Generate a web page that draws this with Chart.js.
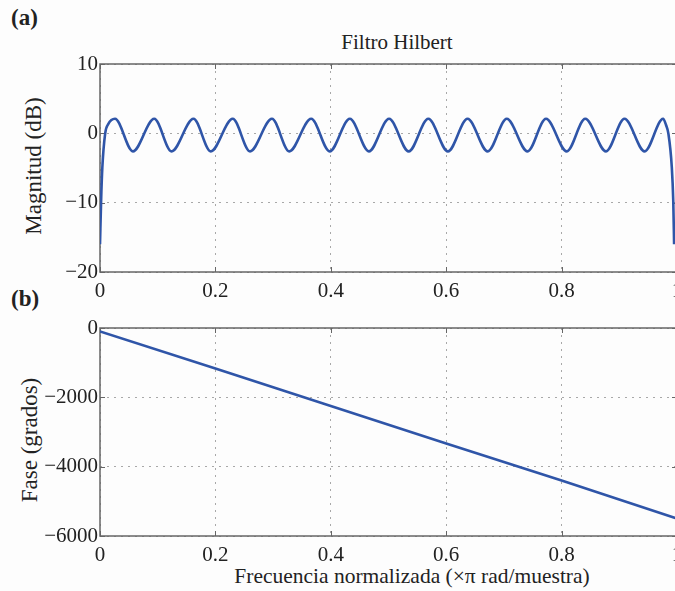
<!DOCTYPE html>
<html>
<head>
<meta charset="utf-8">
<script src="https://cdn.jsdelivr.net/npm/chart.js@4.4.1/dist/chart.umd.min.js"></script>
<style>
  html, body { margin: 0; padding: 0; background: #fdfdfd; overflow: hidden; width: 675px; height: 591px; }
  #page { position: relative; width: 675px; height: 591px; overflow: hidden; font-family: 'Liberation Serif', 'Times New Roman', serif; color: #222; }
  canvas { position: absolute; left: 0; }
  .lbl { position: absolute; white-space: nowrap; line-height: 1; }
  .tag { font-weight: bold; font-size: 23px; left: 11px; }
  .rot { transform: translate(-50%, -50%) rotate(-90deg); font-size: 23px; }
</style>
</head>
<body>
<div id="page">
  <div class="lbl tag" style="top:6px">(a)</div>
  <div class="lbl tag" style="top:287px">(b)</div>
  <div class="lbl" style="left:397px;top:32px;font-size:21px;transform:translateX(-50%)">Filtro Hilbert</div>
  <div class="lbl rot" style="left:33px;top:166px">Magnitud (dB)</div>
  <div class="lbl rot" style="left:29px;top:440px">Fase (grados)</div>
  <div class="lbl" style="left:412px;top:566px;font-size:21.5px;transform:translateX(-50%)">Frecuencia normalizada (×π rad/muestra)</div>
  <canvas id="magChart" width="700" height="300" style="top:0"></canvas>
  <canvas id="phaseChart" width="700" height="291" style="top:300px"></canvas>
</div>
<script>
// frecuencia normalizada (x pi rad/muestra) y magnitud (dB)
const magFreq = [0, 0.002, 0.004, 0.009, 0.014, 0.026, 0.057, 0.094, 0.124, 0.162, 0.192, 0.230, 0.260,
  0.298, 0.328, 0.366, 0.398, 0.433, 0.466, 0.501, 0.535, 0.569, 0.603, 0.637, 0.672, 0.705, 0.741,
  0.773, 0.809, 0.841, 0.877, 0.909, 0.944, 0.976, 0.981, 0.985, 0.991, 0.9935, 0.995];
const magDb = [-16, -9.5, -5, 0, 1.3, 2.1, -2.6, 2.1, -2.6, 2.1, -2.6, 2.1, -2.6,
  2.1, -2.6, 2.1, -2.6, 2.1, -2.6, 2.1, -2.6, 2.1, -2.6, 2.1, -2.6, 2.1, -2.6,
  2.1, -2.6, 2.1, -2.6, 2.1, -2.6, 2.1, 1.2, 0, -4.9, -9.7, -16];

// fase (grados)
const phaseFreq = [0, 0.2, 0.4, 0.6, 0.8, 0.997];
const phaseDeg = [-100, -1170, -2250, -3330, -4400, -5480];

const xTicks = [0, 0.2, 0.4, 0.6, 0.8, 1];
const magTicks = [-20, -10, 0, 10];
const phaseTicks = [-6000, -4000, -2000, 0];

const FONT = "'Liberation Serif', 'Times New Roman', serif";
const AXIS_COLOR = '#666';
const LINE_COLOR = '#2f55a8';

function minus(v) {
  return String(v).replace('-', '\u2212');
}

// caja estilo MATLAB con marcas hacia dentro
const boxPlugin = {
  id: 'matlabBox',
  beforeDatasetsDraw(chart) {
    const { ctx, chartArea: a, scales } = chart;
    ctx.save();
    ctx.strokeStyle = AXIS_COLOR;
    ctx.lineWidth = 1.5;
    ctx.strokeRect(a.left, a.top, a.right - a.left, a.bottom - a.top);
    ctx.lineWidth = 1;
    ctx.beginPath();
    scales.x.ticks.forEach((t) => {
      const px = Math.round(scales.x.getPixelForValue(t.value)) + 0.5;
      ctx.moveTo(px, a.bottom); ctx.lineTo(px, a.bottom - 5);
      ctx.moveTo(px, a.top); ctx.lineTo(px, a.top + 5);
    });
    scales.y.ticks.forEach((t) => {
      const py = Math.round(scales.y.getPixelForValue(t.value)) + 0.5;
      ctx.moveTo(a.left, py); ctx.lineTo(a.left + 5, py);
      ctx.moveTo(a.right, py); ctx.lineTo(a.right - 5, py);
    });
    ctx.stroke();
    ctx.restore();
  },
};

function makePanel(id, xs, ys, yTicks, areaTop, areaBottom, smooth) {
  const canvas = document.getElementById(id);
  const H = canvas.height;
  const points = xs.map((x, i) => ({ x, y: ys[i] }));
  return new Chart(canvas.getContext('2d'), {
    type: 'line',
    data: {
      datasets: [{
        data: points,
        borderColor: LINE_COLOR,
        borderWidth: 2.6,
        pointRadius: 0,
        fill: false,
        tension: 0,
        cubicInterpolationMode: smooth ? 'monotone' : 'default',
      }],
    },
    options: {
      responsive: false,
      animation: false,
      devicePixelRatio: 1,
      layout: { padding: { top: areaTop, right: 23, left: 0, bottom: 0 } },
      plugins: { legend: { display: false }, tooltip: { enabled: false } },
      scales: {
        x: {
          type: 'linear',
          min: 0,
          max: 1,
          afterBuildTicks(s) { s.ticks = xTicks.map((v) => ({ value: v })); },
          afterFit(s) { s.height = H - areaBottom; },
          ticks: {
            color: '#222',
            font: { family: FONT, size: 21 },
            padding: 7,
            maxRotation: 0,
            callback: (v) => minus(v),
          },
          grid: { color: '#a8a8a8', lineWidth: 1, drawTicks: false },
          border: { display: false, dash: [2, 5] },
        },
        y: {
          type: 'linear',
          min: yTicks[0],
          max: yTicks[yTicks.length - 1],
          afterBuildTicks(s) { s.ticks = yTicks.map((v) => ({ value: v })); },
          afterFit(s) { s.width = 100; },
          ticks: {
            color: '#222',
            font: { family: FONT, size: 21 },
            padding: 2,
            callback: (v) => minus(v),
          },
          grid: { color: '#a8a8a8', lineWidth: 1, drawTicks: false },
          border: { display: false, dash: [2, 5] },
        },
      },
    },
    plugins: [boxPlugin],
  });
}

makePanel('magChart', magFreq, magDb, magTicks, 64, 272, true);
makePanel('phaseChart', phaseFreq, phaseDeg, phaseTicks, 28, 236, false);
</script>
</body>
</html>
